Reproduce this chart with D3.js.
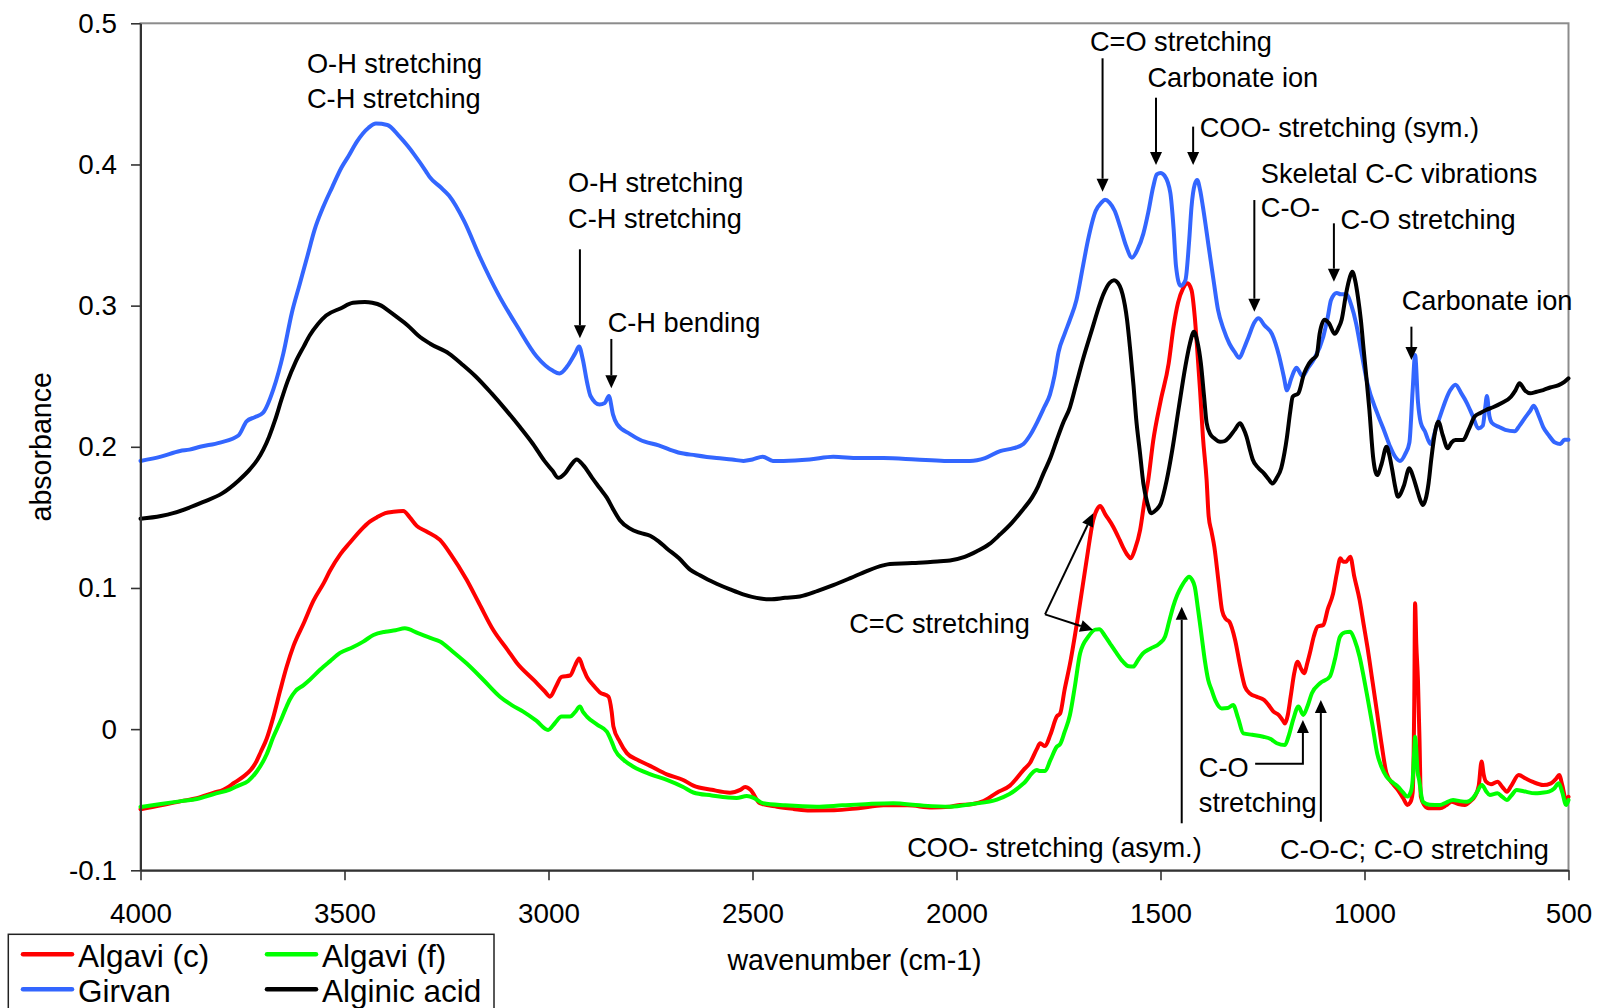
<!DOCTYPE html>
<html>
<head>
<meta charset="utf-8">
<script src="https://cdn.jsdelivr.net/npm/d3@7"></script>
<style>
  html, body { margin: 0; padding: 0; background: #fff; }
  svg { display: block; font-family: "Liberation Sans", Arial, Helvetica, sans-serif; }
</style>
</head>
<body>
<svg id="chart" width="1600" height="1008"></svg>
<script>
// FTIR absorbance spectra, [wavenumber (cm-1), absorbance]

const algaviC = [
  [4000,-0.0567],[3950,-0.054],[3900,-0.051],[3862,-0.049],[3820,-0.045],[3797,-0.043],[3770,-0.038],
  [3748,-0.0336],[3730,-0.029],[3718,-0.024],[3705,-0.016],[3691,-0.007],[3675,0.008],[3658,0.027],
  [3642,0.044],[3625,0.059],[3600,0.075],[3576,0.091],[3550,0.104],[3536,0.112],[3510,0.124],
  [3487,0.132],[3460,0.141],[3438,0.147],[3421,0.150],[3400,0.153],[3380,0.154],[3356,0.1545],
  [3340,0.150],[3323,0.144],[3299,0.140],[3266,0.134],[3240,0.124],[3201,0.106],[3170,0.089],
  [3135,0.070],[3100,0.056],[3078,0.047],[3037,0.035],[3010,0.027],[2996,0.023],[2982,0.030],
  [2968,0.037],[2947,0.038],[2935,0.045],[2925,0.050],[2915,0.043],[2906,0.037],[2890,0.031],
  [2874,0.026],[2853,0.023],[2845,0.012],[2841,0.002],[2825,-0.009],[2808,-0.017],[2780,-0.022],
  [2751,-0.026],[2710,-0.032],[2670,-0.036],[2645,-0.040],[2600,-0.043],[2555,-0.045],[2530,-0.043],
  [2518,-0.041],[2505,-0.043],[2482,-0.0525],[2440,-0.055],[2400,-0.0565],[2359,-0.0576],[2300,-0.0575],
  [2240,-0.056],[2179,-0.054],[2120,-0.054],[2060,-0.0555],[2016,-0.055],[2000,-0.054],[1960,-0.053],
  [1934,-0.051],[1901,-0.045],[1869,-0.040],[1836,-0.029],[1820,-0.024],[1803,-0.014],[1795,-0.010],
  [1783,-0.012],[1770,-0.004],[1754,0.009],[1746,0.011],[1735,0.028],[1722,0.046],[1701,0.082],
  [1681,0.120],[1665,0.148],[1655,0.156],[1648,0.158],[1635,0.152],[1616,0.1434],[1600,0.134],
  [1592,0.129],[1580,0.123],[1573,0.121],[1562,0.128],[1550,0.141],[1540,0.160],[1530,0.1765],
  [1518,0.204],[1500,0.232],[1480,0.259],[1468,0.285],[1457,0.302],[1445,0.312],[1434,0.3158],
  [1424,0.311],[1416,0.292],[1410,0.269],[1403,0.240],[1396,0.207],[1387,0.1765],[1382,0.151],
  [1375,0.140],[1368,0.129],[1358,0.105],[1349,0.084],[1340,0.078],[1331,0.076],[1317,0.063],
  [1305,0.045],[1293,0.030],[1280,0.025],[1265,0.023],[1246,0.0206],[1235,0.017],[1223,0.0124],
  [1210,0.010],[1200,0.006],[1195,0.004],[1188,0.010],[1181,0.023],[1172,0.040],[1164,0.0478],
  [1156,0.043],[1148,0.0396],[1140,0.047],[1134,0.0537],[1124,0.066],[1115,0.0726],[1101,0.0738],
  [1090,0.085],[1077,0.096],[1068,0.110],[1059,0.121],[1052,0.1185],[1045,0.1186],[1035,0.1222],
  [1025,0.108],[1012,0.0915],[1002,0.074],[993,0.0584],[980,0.033],[969,0.0112],[958,-0.011],
  [946,-0.0313],[930,-0.039],[918,-0.0431],[905,-0.049],[895,-0.0537],[888,-0.052],[882,-0.045],
  [878,0.020],[876,0.0891],[873,0.060],[869,0.0348],[865,-0.010],[862,-0.0478],[853,-0.054],
  [843,-0.0561],[815,-0.0561],[800,-0.054],[787,-0.0514],[770,-0.053],[754,-0.0537],[740,-0.051],
  [730,-0.0478],[720,-0.040],[713,-0.023],[708,-0.032],[702,-0.0372],[690,-0.039],[674,-0.0372],
  [662,-0.041],[651,-0.0443],[640,-0.040],[622,-0.0325],[605,-0.035],[589,-0.0372],[562,-0.0396],
  [543,-0.0384],[530,-0.035],[523,-0.0325],[515,-0.040],[506,-0.0502],[500,-0.048]
];

const algaviF = [
  [4000,-0.0552],[3950,-0.053],[3900,-0.051],[3862,-0.0495],[3820,-0.046],[3781,-0.0428],[3760,-0.040],
  [3736,-0.0367],[3715,-0.030],[3691,-0.018],[3675,-0.006],[3658,0.005],[3645,0.014],[3634,0.021],
  [3620,0.027],[3601,0.031],[3585,0.035],[3560,0.042],[3536,0.048],[3511,0.054],[3480,0.058],
  [3454,0.062],[3429,0.0667],[3400,0.069],[3375,0.070],[3352,0.0714],[3320,0.068],[3290,0.0646],
  [3266,0.062],[3235,0.055],[3201,0.0466],[3160,0.035],[3119,0.023],[3090,0.017],[3062,0.0124],
  [3030,0.006],[3001,-0.0006],[2985,0.004],[2968,0.0089],[2947,0.0089],[2935,0.012],[2923,0.016],
  [2915,0.012],[2906,0.0089],[2880,0.003],[2857,-0.0018],[2845,-0.009],[2837,-0.0148],[2815,-0.022],
  [2792,-0.0266],[2750,-0.032],[2710,-0.036],[2670,-0.041],[2645,-0.0449],[2600,-0.047],[2560,-0.0485],
  [2539,-0.0487],[2514,-0.0474],[2495,-0.049],[2474,-0.0525],[2420,-0.054],[2343,-0.055],[2280,-0.054],
  [2215,-0.053],[2155,-0.0525],[2090,-0.054],[2016,-0.055],[1960,-0.053],[1901,-0.0499],[1870,-0.046],
  [1836,-0.0386],[1803,-0.029],[1795,-0.0297],[1783,-0.0297],[1770,-0.022],[1754,-0.0124],[1746,-0.0107],
  [1735,-0.002],[1722,0.010],[1710,0.030],[1697,0.0537],[1677,0.0655],[1660,0.0705],[1650,0.0707],
  [1636,0.066],[1624,0.0608],[1608,0.054],[1592,0.0478],[1578,0.0445],[1567,0.0443],[1555,0.049],
  [1543,0.0537],[1525,0.057],[1502,0.0608],[1489,0.0655],[1479,0.076],[1469,0.0868],[1459,0.095],
  [1449,0.1009],[1440,0.105],[1430,0.108],[1423,0.106],[1416,0.1009],[1408,0.085],[1399,0.0655],
  [1391,0.048],[1383,0.0348],[1375,0.028],[1365,0.020],[1350,0.0147],[1335,0.015],[1322,0.0171],
  [1310,0.008],[1297,-0.003],[1275,-0.004],[1248,-0.0054],[1230,-0.007],[1215,-0.010],[1195,-0.0112],
  [1185,-0.004],[1175,0.0065],[1162,0.016],[1150,0.0101],[1140,0.016],[1129,0.0254],[1109,0.0325],
  [1085,0.0372],[1072,0.050],[1060,0.0655],[1048,0.0685],[1035,0.069],[1024,0.063],[1012,0.0513],
  [1002,0.037],[993,0.023],[980,0.002],[969,-0.0171],[958,-0.027],[946,-0.0337],[930,-0.038],
  [918,-0.0408],[905,-0.045],[895,-0.0478],[886,-0.044],[882,-0.0361],[878,-0.015],[876,-0.0054],
  [873,-0.015],[870,-0.030],[866,-0.0361],[860,-0.048],[857,-0.0514],[840,-0.0535],[815,-0.0537],
  [800,-0.052],[783,-0.0502],[766,-0.051],[749,-0.0514],[735,-0.049],[726,-0.0455],[712,-0.0396],
  [702,-0.044],[693,-0.0467],[674,-0.0455],[662,-0.048],[651,-0.0502],[640,-0.047],[627,-0.0431],
  [610,-0.044],[581,-0.0455],[565,-0.045],[548,-0.0443],[535,-0.042],[524,-0.0384],[515,-0.045],
  [506,-0.0537],[500,-0.0502]
];

const girvan = [
  [4000,0.190],[3950,0.193],[3903,0.197],[3880,0.198],[3854,0.200],[3805,0.203],[3760,0.208],
  [3740,0.218],[3720,0.221],[3700,0.224],[3674,0.241],[3650,0.266],[3629,0.295],[3610,0.315],
  [3591,0.335],[3573,0.354],[3552,0.370],[3530,0.384],[3507,0.398],[3490,0.406],[3470,0.416],
  [3441,0.426],[3423,0.429],[3395,0.428],[3366,0.420],[3345,0.413],[3329,0.407],[3300,0.395],
  [3291,0.391],[3265,0.384],[3244,0.378],[3207,0.360],[3169,0.335],[3123,0.308],[3076,0.285],
  [3029,0.264],[2990,0.254],[2973,0.252],[2954,0.257],[2935,0.266],[2925,0.271],[2916,0.262],
  [2905,0.245],[2897,0.236],[2875,0.230],[2862,0.231],[2852,0.236],[2842,0.223],[2832,0.216],
  [2800,0.209],[2776,0.205],[2730,0.201],[2682,0.196],[2640,0.194],[2588,0.192],[2550,0.191],
  [2522,0.190],[2500,0.191],[2475,0.193],[2450,0.190],[2424,0.190],[2360,0.191],[2302,0.193],
  [2240,0.192],[2179,0.192],[2100,0.191],[2030,0.190],[1967,0.190],[1930,0.192],[1893,0.197],
  [1860,0.199],[1836,0.202],[1820,0.208],[1803,0.217],[1785,0.228],[1771,0.237],[1760,0.250],
  [1750,0.267],[1735,0.280],[1722,0.290],[1706,0.304],[1690,0.328],[1678,0.346],[1659,0.367],
  [1645,0.373],[1636,0.375],[1625,0.373],[1612,0.367],[1598,0.355],[1584,0.342],[1570,0.334],
  [1556,0.340],[1542,0.351],[1530,0.366],[1518,0.384],[1509,0.393],[1500,0.394],[1490,0.392],
  [1476,0.380],[1468,0.355],[1462,0.328],[1451,0.314],[1439,0.318],[1430,0.345],[1424,0.370],
  [1416,0.386],[1410,0.389],[1403,0.382],[1396,0.370],[1382,0.342],[1370,0.318],[1359,0.297],
  [1345,0.283],[1331,0.273],[1318,0.267],[1307,0.263],[1295,0.270],[1284,0.278],[1270,0.288],
  [1260,0.291],[1245,0.286],[1227,0.280],[1209,0.264],[1198,0.250],[1190,0.240],[1180,0.248],
  [1167,0.256],[1152,0.250],[1138,0.256],[1124,0.262],[1101,0.278],[1090,0.292],[1082,0.304],
  [1068,0.309],[1058,0.308],[1045,0.308],[1032,0.300],[1021,0.288],[1007,0.266],[993,0.245],
  [969,0.224],[950,0.210],[937,0.200],[925,0.193],[913,0.190],[900,0.195],[890,0.203],
  [882,0.240],[876,0.265],[869,0.232],[862,0.217],[852,0.211],[838,0.202],[824,0.214],
  [812,0.224],[801,0.233],[790,0.240],[777,0.244],[763,0.238],[749,0.231],[735,0.222],
  [721,0.213],[710,0.215],[704,0.228],[700,0.236],[694,0.222],[688,0.217],[670,0.214],
  [655,0.212],[632,0.211],[620,0.215],[608,0.220],[595,0.225],[585,0.229],[573,0.222],
  [562,0.214],[548,0.208],[533,0.203],[520,0.202],[510,0.205],[500,0.205]
];

const alginicAcid = [
  [4000,0.149],[3950,0.151],[3920,0.153],[3880,0.157],[3846,0.161],[3800,0.167],[3760,0.176],
  [3732,0.184],[3713,0.191],[3699,0.198],[3685,0.207],[3670,0.219],[3655,0.233],[3640,0.246],
  [3620,0.260],[3600,0.271],[3585,0.279],[3565,0.287],[3545,0.293],[3510,0.298],
  [3479,0.302],[3450,0.3025],[3432,0.302],[3410,0.300],[3395,0.297],[3372,0.292],[3345,0.286],
  [3320,0.279],[3290,0.273],[3244,0.266],[3210,0.258],[3179,0.250],[3140,0.238],[3104,0.226],
  [3070,0.214],[3038,0.202],[3010,0.190],[2990,0.183],[2976,0.178],[2960,0.181],[2945,0.187],
  [2931,0.191],[2915,0.187],[2893,0.178],[2875,0.171],[2857,0.164],[2840,0.155],[2825,0.148],
  [2800,0.142],[2775,0.139],[2751,0.137],[2730,0.133],[2710,0.128],[2680,0.121],[2653,0.113],
  [2629,0.109],[2610,0.106],[2588,0.103],[2555,0.099],[2523,0.0955],[2490,0.093],[2457,0.092],
  [2420,0.093],[2384,0.094],[2340,0.098],[2302,0.102],[2260,0.107],[2220,0.112],[2180,0.116],
  [2163,0.117],[2120,0.1175],[2081,0.118],[2040,0.119],[2016,0.1195],[1980,0.122],[1950,0.126],
  [1920,0.131],[1893,0.138],[1865,0.146],[1836,0.156],[1815,0.164],[1800,0.172],[1787,0.181],
  [1770,0.192],[1754,0.205],[1740,0.216],[1722,0.228],[1706,0.245],[1690,0.262],[1668,0.283],
  [1650,0.300],[1640,0.308],[1625,0.316],[1614,0.318],[1600,0.314],[1593,0.308],[1582,0.290],
  [1574,0.268],[1566,0.243],[1560,0.221],[1550,0.195],[1542,0.174],[1532,0.160],[1523,0.153],
  [1512,0.155],[1499,0.160],[1485,0.176],[1471,0.198],[1455,0.228],[1439,0.257],[1428,0.273],
  [1418,0.2815],[1410,0.275],[1401,0.259],[1393,0.235],[1387,0.217],[1378,0.209],[1368,0.206],
  [1354,0.2036],[1343,0.204],[1331,0.207],[1318,0.212],[1305,0.2166],[1297,0.213],[1289,0.207],
  [1280,0.197],[1274,0.191],[1260,0.185],[1246,0.181],[1235,0.177],[1226,0.174],[1215,0.178],
  [1204,0.185],[1196,0.196],[1190,0.207],[1182,0.225],[1176,0.2355],[1162,0.238],[1148,0.252],
  [1138,0.258],[1129,0.2615],[1117,0.265],[1110,0.280],[1098,0.290],[1087,0.2875],[1073,0.280],
  [1064,0.284],[1056,0.290],[1045,0.3087],[1036,0.320],[1030,0.324],[1023,0.318],[1016,0.306],
  [1009,0.290],[1002,0.2686],[995,0.248],[988,0.226],[979,0.193],[969,0.180],[958,0.188],
  [946,0.2001],[939,0.194],[932,0.1836],[925,0.172],[918,0.1647],[904,0.172],[890,0.1848],
  [880,0.178],[871,0.1694],[863,0.162],[857,0.1588],[850,0.163],[843,0.1741],[836,0.192],
  [829,0.2072],[819,0.2178],[808,0.208],[796,0.1989],[787,0.203],[777,0.2049],[758,0.2049],
  [745,0.212],[730,0.2214],[716,0.224],[702,0.2261],[685,0.228],[665,0.2308],[641,0.2355],
  [630,0.240],[620,0.245],[607,0.240],[594,0.2379],[578,0.239],[562,0.2402],[545,0.242],
  [524,0.2437],[510,0.246],[500,0.2485]
];

const seriesNames  = ["Algavi (c)", "Algavi (f)", "Girvan", "Alginic acid"];
const seriesValues = [algaviC, algaviF, girvan, alginicAcid];
const seriesColors = ["#ff0000", "#00ff00", "#3366ff", "#000000"];

const xTicks = [4000, 3500, 3000, 2500, 2000, 1500, 1000, 500];
const yTicks = [-0.1, 0, 0.1, 0.2, 0.3, 0.4, 0.5];
const yTickLabels = ["-0.1", "0", "0.1", "0.2", "0.3", "0.4", "0.5"];

// Band assignments: text lines at [wavenumber, absorbance] (left, baseline)
const bandLabels = [
  { t: "O-H stretching", at: [3592, 0.4649] },
  { t: "C-H stretching", at: [3592, 0.4398] },
  { t: "O-H stretching", at: [2952, 0.3807] },
  { t: "C-H stretching", at: [2952, 0.3548] },
  { t: "C-H bending", at: [2855, 0.2815] },
  { t: "C=O stretching", at: [1673, 0.4806] },
  { t: "Carbonate ion", at: [1532, 0.4547] },
  { t: "COO- stretching (sym.)", at: [1404, 0.4192] },
  { t: "Skeletal C-C vibrations", at: [1254, 0.3871] },
  { t: "C-O-", at: [1254, 0.3630] },
  { t: "C-O stretching", at: [1059, 0.3540] },
  { t: "Carbonate ion", at: [909, 0.2969] },
  { t: "C=C stretching", at: [2263, 0.0679] },
  { t: "COO- stretching (asym.)", at: [2121, -0.0904] },
  { t: "C-O", at: [1406, -0.0337] },
  { t: "stretching", at: [1406, -0.0585] },
  { t: "C-O-C; C-O stretching", at: [1207, -0.0922] }
];

// Pointer paths; the last point carries the arrowhead
const bandArrows = [
  [[2923, 0.3399], [2923, 0.2769]],
  [[2846, 0.2764], [2846, 0.2414]],
  [[1642, 0.4752], [1642, 0.3807]],
  [[1511, 0.4473], [1511, 0.3996]],
  [[1420, 0.4268], [1420, 0.3996]],
  [[1270, 0.3748], [1270, 0.2957]],
  [[1075, 0.3583], [1075, 0.3170]],
  [[885, 0.2851], [885, 0.2615]],
  [[1783, 0.0813], [1665, 0.1529]],
  [[1783, 0.0813], [1665, 0.0702]],
  [[1448, -0.0667], [1448, 0.0867]],
  [[1268, -0.0246], [1151, -0.0246], [1151, 0.0065]],
  [[1107, -0.0656], [1107, 0.0206]]
];

const plot = { left: 140.5, right: 1568.5, top: 23.3, bottom: 870.3 };
const fontPx = 27.2;
const titlePx = 28.6;

const svg = d3.select("#chart");

const x = d3.scaleLinear().domain([4000, 500]).range([plot.left, plot.right]);
const y = d3.scaleLinear().domain([-0.1, 0.5]).range([plot.bottom, plot.top]);

// plot frame (top / right edges grey)
svg.append("rect")
  .attr("x", plot.left).attr("y", plot.top)
  .attr("width", plot.right - plot.left).attr("height", plot.bottom - plot.top)
  .attr("fill", "none").attr("stroke", "#8c8c8c").attr("stroke-width", 2);

// spectra
const line = d3.line()
  .x(d => x(d[0])).y(d => y(d[1]))
  .curve(d3.curveMonotoneX);

const traces = svg.append("g").attr("class", "traces");
seriesValues.forEach((vals, i) => {
  const sorted = vals.slice().sort((a, b) => b[0] - a[0]);
  traces.append("path")
    .datum(sorted)
    .attr("d", line)
    .attr("fill", "none")
    .attr("stroke", seriesColors[i])
    .attr("stroke-width", 4)
    .attr("stroke-linejoin", "round")
    .attr("stroke-linecap", "round");
});

// axes
const axisColor = "#333";
const yAxis = svg.append("g")
  .attr("transform", `translate(${plot.left},0)`)
  .call(d3.axisLeft(y).tickValues(yTicks)
    .tickFormat((d, i) => yTickLabels[i])
    .tickSize(9.5).tickSizeOuter(0).tickPadding(14));
const xAxis = svg.append("g")
  .attr("transform", `translate(0,${plot.bottom})`)
  .call(d3.axisBottom(x).tickValues(xTicks)
    .tickFormat(d3.format("d"))
    .tickSize(10).tickSizeOuter(0).tickPadding(22.5));

[yAxis, xAxis].forEach(g => {
  g.select(".domain").attr("stroke", axisColor).attr("stroke-width", 2);
  g.selectAll(".tick line").attr("stroke", axisColor).attr("stroke-width", 1.6);
  g.selectAll(".tick text")
    .attr("fill", "#000")
    .style("font-size", "27.8px")
    .style("font-family", '"Liberation Sans", Arial, sans-serif');
});

// axis titles
svg.append("text")
  .attr("transform", `translate(50.5,${(plot.top + plot.bottom) / 2}) rotate(-90)`)
  .attr("text-anchor", "middle")
  .style("font-size", titlePx + "px")
  .text("absorbance");

svg.append("text")
  .attr("x", (plot.left + plot.right) / 2).attr("y", 970)
  .attr("text-anchor", "middle")
  .style("font-size", titlePx + "px")
  .text("wavenumber (cm-1)");

// band labels
const notes = svg.append("g").attr("class", "notes");
bandLabels.forEach(b => {
  notes.append("text")
    .attr("x", x(b.at[0])).attr("y", y(b.at[1]))
    .style("font-size", fontPx + "px")
    .attr("fill", "#000")
    .text(b.t);
});

// pointers with filled heads
const headLen = 13, headHalf = 6;
bandArrows.forEach(pts => {
  const px = pts.map(p => [x(p[0]), y(p[1])]);
  const a = px[px.length - 2], b = px[px.length - 1];
  const dx = b[0] - a[0], dy = b[1] - a[1];
  const len = Math.hypot(dx, dy);
  const ux = dx / len, uy = dy / len;
  const base = [b[0] - ux * headLen, b[1] - uy * headLen];
  const shaft = px.slice(0, -1).concat([base]);
  notes.append("path")
    .attr("d", d3.line()(shaft))
    .attr("fill", "none").attr("stroke", "#000").attr("stroke-width", 2);
  notes.append("path")
    .attr("d", d3.line()([
      b,
      [base[0] - uy * headHalf, base[1] + ux * headHalf],
      [base[0] + uy * headHalf, base[1] - ux * headHalf]
    ]) + "Z")
    .attr("fill", "#000");
});

// legend
const legend = svg.append("g").attr("class", "legend");
legend.append("rect")
  .attr("x", 8.3).attr("y", 934.3).attr("width", 485.7).attr("height", 100)
  .attr("fill", "#fff").attr("stroke", "#222").attr("stroke-width", 1.5);
const legendPos = [[23, 954.3], [267, 954.3], [23, 989.3], [267, 989.3]];
seriesNames.forEach((name, i) => {
  const [lx, ly] = legendPos[i];
  legend.append("line")
    .attr("x1", lx).attr("x2", lx + 49).attr("y1", ly).attr("y2", ly)
    .attr("stroke", seriesColors[i]).attr("stroke-width", 4.5)
    .attr("stroke-linecap", "round");
  legend.append("text")
    .attr("x", lx + 55).attr("y", ly + 12.2)
    .style("font-size", "31.5px")
    .text(name);
});
</script>
</body>
</html>
